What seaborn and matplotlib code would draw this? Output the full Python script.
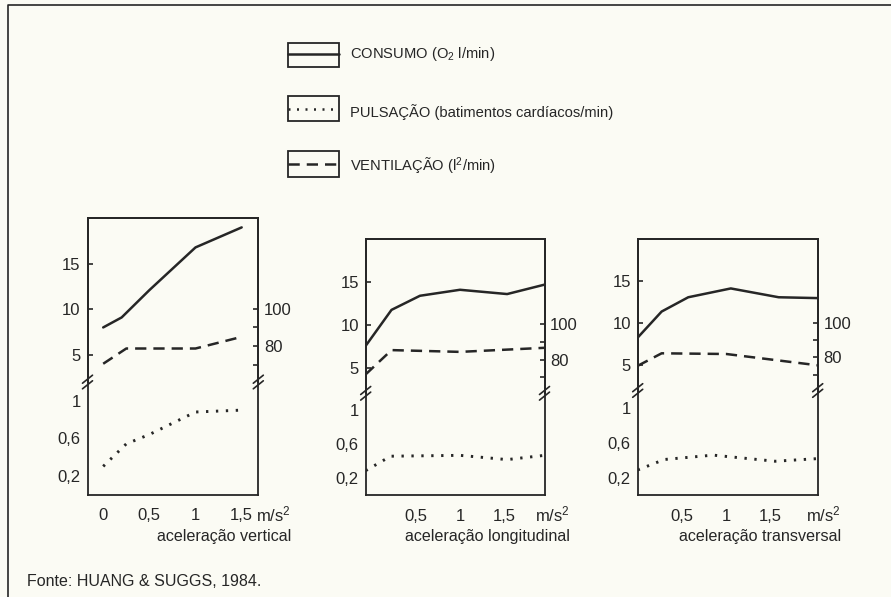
import matplotlib
matplotlib.use('Agg')
import matplotlib.pyplot as plt
import seaborn as sns
from matplotlib.patches import Rectangle

# ---- data ----
panel_labels = ['aceleração vertical', 'aceleração longitudinal', 'aceleração transversal']

# aceleração vertical
vert_solid_x = [0, 0.2, 0.5, 1.0, 1.5]
vert_solid_y = [8.0, 9.1, 12.1, 16.8, 19.0]
vert_dash_x = [0, 0.25, 1.0, 1.5]
vert_dash_y = [70.7, 78.8, 78.8, 85.0]
vert_dot_x = [0, 0.25, 0.5, 1.0, 1.5]
vert_dot_y = [0.30, 0.54, 0.64, 0.88, 0.90]

# aceleração longitudinal
long_solid_x = [-0.06, 0.23, 0.55, 1.0, 1.53, 1.95]
long_solid_y = [7.55, 11.75, 13.4, 14.1, 13.6, 14.7]
long_dash_x = [-0.06, 0.23, 1.0, 1.95]
long_dash_y = [71.7, 85.4, 84.4, 86.7]
long_dot_x = [-0.06, 0.22, 1.0, 1.53, 1.95]
long_dot_y = [0.29, 0.46, 0.47, 0.42, 0.47]

# aceleração transversal
trans_solid_x = [0, 0.27, 0.57, 1.05, 1.59, 2.03]
trans_solid_y = [8.3, 11.4, 13.1, 14.15, 13.1, 13.0]
trans_dash_x = [0, 0.27, 1.0, 2.03]
trans_dash_y = [75.2, 82.4, 82.0, 75.5]
trans_dot_x = [0, 0.3, 0.85, 1.55, 2.03]
trans_dot_y = [0.29, 0.41, 0.46, 0.39, 0.42]

x_ticks = [[0, 0.5, 1, 1.5], [0.5, 1, 1.5], [0.5, 1, 1.5]]
x_ticklabels = [['0', '0,5', '1', '1,5'], ['0,5', '1', '1,5'], ['0,5', '1', '1,5']]
upper_ticks = [5, 10, 15]
upper_ticklabels = ['5', '10', '15']
right_ticks = [80, 100]
right_minor = [70, 90]
lower_ticks = [0.2, 0.6, 1.0]
lower_ticklabels = ['0,2', '0,6', '1']
lower_minor = [0.4, 0.8]

legend_labels = ['CONSUMO (O$_2$ l/min)',
                 'PULSAÇÃO (batimentos cardíacos/min)',
                 'VENTILAÇÃO (l$^2$/min)']

series = [
    (vert_solid_x, vert_solid_y, vert_dash_x, vert_dash_y, vert_dot_x, vert_dot_y),
    (long_solid_x, long_solid_y, long_dash_x, long_dash_y, long_dot_x, long_dot_y),
    (trans_solid_x, trans_solid_y, trans_dash_x, trans_dash_y, trans_dot_x, trans_dot_y),
]

# ---- layout (pixels) ----
W, H = 891, 597
boxes = [(87.5, 258.3, 218.3, 382.0, 494.5),
         (365.7, 544.5, 239.3, 393.3, 495.3),
         (637.7, 817.7, 239.3, 390.5, 495.3)]
xlims = [(-0.17, 1.68), (-0.06, 1.95), (0.0, 2.03)]
label_right = [291, 570, 841]

bg = '#fbfbf4'
ink = '#262626'
sns.set_style('white')
plt.rcParams['font.family'] = ['Liberation Sans', 'DejaVu Sans']
plt.rcParams['mathtext.fontset'] = 'custom'
plt.rcParams['mathtext.rm'] = 'Liberation Sans'
plt.rcParams['mathtext.it'] = 'Liberation Sans'
plt.rcParams['mathtext.default'] = 'regular'
plt.rcParams['text.color'] = ink
plt.rcParams['axes.edgecolor'] = ink
plt.rcParams['xtick.color'] = ink
plt.rcParams['ytick.color'] = ink

fig = plt.figure(figsize=(W / 100, H / 100), dpi=100, facecolor=bg)


def px_axes(l, r, t, b):
    return fig.add_axes([l / W, 1 - b / H, (r - l) / W, (b - t) / H])


lw = 1.8
solid_ls = '-'
dot_ls = (0, (0.8, 2.6))
dash_ls = (0, (4.5, 2.8))

for i, (l, r, t, brk, b) in enumerate(boxes):
    sx, sy, dx, dy, ox, oy = series[i]
    ax_up = px_axes(l, r, t, brk)
    ax_lo = px_axes(l, r, brk, b)
    ax_r = ax_up.twinx()
    for a in (ax_up, ax_lo, ax_r):
        a.set_facecolor('none')
        for s in a.spines.values():
            s.set_linewidth(1.3)
            s.set_color(ink)

    sns.lineplot(x=sx, y=sy, ax=ax_up, color=ink, lw=lw, linestyle=solid_ls)
    sns.lineplot(x=dx, y=dy, ax=ax_r, color=ink, lw=lw, linestyle=dash_ls)
    sns.lineplot(x=ox, y=oy, ax=ax_lo, color=ink, lw=lw + 0.3, linestyle=dot_ls)

    ax_up.set_xlim(*xlims[i])
    ax_lo.set_xlim(*xlims[i])
    ax_up.set_ylim(2, 20)
    ax_r.set_ylim(61, 148)
    ax_lo.set_ylim(0, 1.2)

    ax_up.spines['bottom'].set_visible(False)
    ax_r.spines['bottom'].set_visible(False)
    ax_lo.spines['top'].set_visible(False)

    ax_up.set_xticks([])
    ax_up.set_yticks(upper_ticks)
    ax_up.set_yticklabels(upper_ticklabels)
    ax_r.set_yticks(right_ticks)
    ax_r.set_yticklabels([str(v) for v in right_ticks])
    ax_r.set_yticks(right_minor, minor=True)
    ax_lo.set_yticks(lower_ticks)
    ax_lo.set_yticklabels(lower_ticklabels)
    ax_lo.set_yticks(lower_minor, minor=True)
    ax_lo.set_xticks(x_ticks[i])
    ax_lo.set_xticklabels(x_ticklabels[i])

    for a in (ax_up, ax_lo, ax_r):
        a.tick_params(which='both', direction='in', length=3.5, width=1.2,
                      labelsize=12)
        a.set_xlabel('')
        a.set_ylabel('')
    ax_up.tick_params(axis='y', pad=5)
    ax_lo.tick_params(axis='y', pad=5)
    ax_r.tick_params(axis='y', pad=4)
    ax_lo.tick_params(axis='x', pad=10)

    fig.text(label_right[i] / W, 1 - 514 / H, 'm/s$^2$', ha='right', va='center',
             fontsize=12)
    fig.text(label_right[i] / W, 1 - 537 / H, panel_labels[i], ha='right',
             va='center', fontsize=11.6)

# overlay in pixel coordinates: frame, legend, axis breaks
ov = fig.add_axes([0, 0, 1, 1])
ov.set_xlim(0, W)
ov.set_ylim(H, 0)
ov.axis('off')
ov.patch.set_visible(False)

ov.plot([8, 8, W + 5], [H + 5, 5, 5], color=ink, lw=1.2, clip_on=False)

for i, (l, r, t, brk, b) in enumerate(boxes):
    for xs in (l, r):
        for d in (-2.8, 2.8):
            ov.plot([xs - 5, xs + 5], [brk + 4 + d, brk - 4 + d],
                    color=ink, lw=1.2)

leg_boxes = [(42.7, 66.7, 53.5, solid_ls), (95.7, 120.7, 109.3, dot_ls),
             (151.0, 176.7, 164.3, dash_ls)]
leg_text_y = [54.3, 111.7, 166.7]
for (top, bot, ly, ls), txt, ty in zip(leg_boxes, legend_labels, leg_text_y):
    ov.add_patch(Rectangle((288, top), 51, bot - top, fill=False,
                           edgecolor=ink, lw=1.3))
    ov.plot([288, 339], [ly, ly], color=ink, lw=lw, linestyle=ls)
    ov.text(350, ty, txt, va='center', ha='left', fontsize=10.6)

ov.text(27, 582, 'Fonte: HUANG & SUGGS, 1984.', va='center', ha='left',
        fontsize=11.5)

fig.savefig('out.png', dpi=100, facecolor=bg)
